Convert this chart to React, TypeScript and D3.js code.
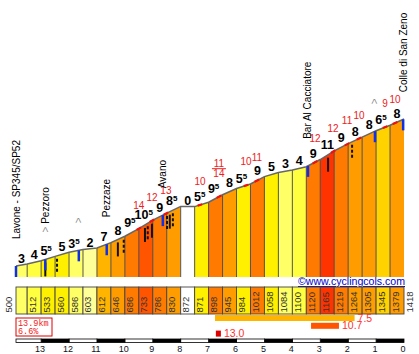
import React from 'react';
import * as d3 from 'd3';

// profile points: km to summit and elevation (m)
const kms = [13.9, 13.5, 13, 12.5, 12, 11.5, 11, 10.5, 10, 9.5, 9, 8.5, 8, 7.5, 7, 6.5, 6, 5.5, 5, 4.5, 4, 3.5, 3, 2.5, 2, 1.5, 1, 0.5, 0];
const elevations = [500, 512, 533, 560, 586, 603, 612, 646, 686, 733, 786, 830, 872, 871, 898, 945, 984, 1012, 1058, 1084, 1100, 1120, 1165, 1219, 1264, 1305, 1345, 1379, 1418];
// average gradient shown for each segment
const gradients = [3, 4, 5.5, 5, 3.5, 2, 7, 8, 9.5, 10.5, 9, 8.5, 0, 5.5, 9.5, 8, 5.5, 9, 5, 3, 4, 9, 11, 9, 8, 8, 6.5, 8];
// steepest ramps (red)
const maxRamps = [
  { km: 9.5, v: '14' }, { km: 9.03, v: '12' }, { km: 8.53, v: '13' }, { km: 7.31, v: '10' },
  { km: 6.63, v: '11/14' }, { km: 5.66, v: '10' }, { km: 5.27, v: '11' }, { km: 3.19, v: '12' },
  { km: 2.54, v: '12' }, { km: 2.04, v: '11' }, { km: 1.61, v: '10' }, { km: 0.68, v: '9' }, { km: 0.32, v: '10' },
];
const places = [
  { km: 13.9, name: 'Lavone - SP345/SP52' },
  { km: 12.85, name: '> Pezzoro' },
  { km: 11.65, name: '>' },
  { km: 10.65, name: 'Pezzaze' },
  { km: 8.64, name: 'Avano' },
  { km: 3.44, name: 'Bar Al Cacciatore' },
  { km: 1.04, name: '>' },
  { km: 0.02, name: 'Colle di San Zeno' },
];
const blueMarks = [13.9, 12.85, 11.65, 10.65, 8.64, 3.44, 1.04, 0.03];
const blackMarks = [
  { km: 12.85, dashed: false }, { km: 12.43, dashed: true }, { km: 10.25, dashed: false }, { km: 10.04, dashed: true },
  { km: 9.28, dashed: false }, { km: 9.18, dashed: true }, { km: 9.03, dashed: false }, { km: 8.49, dashed: true },
  { km: 8.39, dashed: false }, { km: 8.28, dashed: true }, { km: 2.72, dashed: false }, { km: 1.86, dashed: true },
];
const kmTicks = [13, 12, 11, 10, 9, 8, 7, 6, 5, 4, 3, 2, 1, 0];
const summary = ['13.9km', '6.6%'];
// best averages: 5 km, 1 km, 100 m
const bestAverages = [
  { v: 7.5, from: 6.77, to: 1.77 },
  { v: 10.7, from: 3.33, to: 2.33 },
  { v: 13.0, from: 6.74, to: 6.56 },
];

function gradeColor(g: number) {
  if (g < 1) return '#ffffff';
  if (g < 2.5) return '#ffff99';
  if (g < 3.75) return '#ffff66';
  if (g < 4.5) return '#ffff40';
  if (g < 6) return '#fff000';
  if (g < 6.9) return '#ffd200';
  if (g < 7.6) return '#ffb400';
  if (g < 8.6) return '#ff9c00';
  if (g < 9.6) return '#ff7a00';
  if (g < 10.8) return '#ff5500';
  if (g < 12) return '#ff3300';
  return '#e00000';
}

export default function App() {
  const x = d3.scaleLinear().domain([13.9, 0]).range([16, 404]);
  const y = d3.scaleLinear().domain([500, 1418]).range([266, 119]);
  const elevAt = d3.scaleLinear().domain(kms).range(elevations);
  const base = 277;
  const pts = kms.map((k, i) => ({ km: k, e: elevations[i] }));
  const area = d3.area<{ km: number; e: number }>().x(d => x(d.km)).y0(base).y1(d => y(d.e));
  const line = d3.line<{ km: number; e: number }>().x(d => x(d.km)).y(d => y(d.e));
  const font = 'Liberation Sans, Arial, sans-serif';

  return (
    <svg width={419} height={354} style={{ position: 'absolute', left: 0, top: 0, background: '#fff' }} fontFamily={font}>
      {/* segments */}
      {gradients.map((g, i) => (
        <path key={'s' + i} d={area([pts[i], pts[i + 1]]) || ''} fill={gradeColor(g)} />
      ))}
      {pts.slice(1, -1).map((p, i) => (
        <line key={'v' + i} x1={x(p.km)} x2={x(p.km)} y1={y(p.e)} y2={base} stroke="#444" strokeWidth={0.9} />
      ))}
      <path d={line(pts) || ''} fill="none" stroke="#666" strokeWidth={1.5} />
      {/* red ramp ticks on profile */}
      {maxRamps.map((r, i) => {
        const seg = [r.km + 0.08, r.km - 0.08].map(k => ({ km: k, e: elevAt(k) }));
        return <path key={'rt' + i} d={line(seg) || ''} stroke="#ee1111" strokeWidth={2.2} fill="none" />;
      })}
      {/* black markers */}
      {blackMarks.map((m, i) => {
        const yy = y(elevAt(m.km)) + 3;
        return <line key={'bm' + i} x1={x(m.km)} x2={x(m.km)} y1={yy} y2={yy + 14} stroke="#111" strokeWidth={2}
          strokeDasharray={m.dashed ? '3,2' : undefined} />;
      })}
      {/* blue markers */}
      {blueMarks.map((k, i) => {
        const yy = y(elevAt(k));
        return <line key={'bl' + i} x1={x(k)} x2={x(k)} y1={yy} y2={yy + 11} stroke="#1030e8" strokeWidth={2.5} />;
      })}
      {/* gradient labels */}
      {gradients.map((g, i) => {
        const cx = (x(kms[i]) + x(kms[i + 1])) / 2;
        const yy = y(Math.max(elevations[i], elevations[i + 1])) - 1.5;
        const whole = Math.floor(g);
        const half = g - whole > 0;
        return (
          <text key={'g' + i} x={cx - (half ? 2 : 0)} y={yy} fontSize={12.5} fontWeight="bold" textAnchor="middle" fill="#000">
            {whole}
            {half && <tspan fontSize={8} dy={-4}>5</tspan>}
          </text>
        );
      })}
      {/* max ramp labels */}
      {maxRamps.map((r, i) => {
        const cx = x(r.km);
        const yy = y(elevAt(r.km)) - 20;
        if (r.v.includes('/')) {
          const [a, b] = r.v.split('/');
          return (
            <g key={'r' + i} fill="#f02020" fontSize={10} textAnchor="middle">
              <text x={cx} y={yy - 9.5}>{a}</text>
              <line x1={cx - 7} x2={cx + 7} y1={yy - 8} y2={yy - 8} stroke="#f02020" strokeWidth={1} />
              <text x={cx} y={yy}>{b}</text>
            </g>
          );
        }
        return <text key={'r' + i} x={cx} y={yy} fill="#f02020" fontSize={10} textAnchor="middle">{r.v}</text>;
      })}
      {/* place names */}
      {places.map((p, i) => {
        const px = x(p.km) + 3.5;
        const py = y(elevAt(p.km)) - 27;
        const parts = p.name.startsWith('>') ? ['>', p.name.slice(1)] : ['', p.name];
        return (
          <text key={'p' + i} transform={`translate(${px},${py}) rotate(-90)`} fontSize={10} fill="#000">
            {parts[0] && <tspan fill="#888">{parts[0]}</tspan>}
            {parts[1]}
          </text>
        );
      })}
      <text x={298} y={285} fontSize={10} fill="#0000cc" textDecoration="underline" textLength={107} lengthAdjust="spacingAndGlyphs">
        ©www.cyclingcols.com
      </text>
      {/* elevation band */}
      {gradients.map((g, i) => (
        <rect key={'b' + i} x={x(kms[i])} y={287} width={x(kms[i + 1]) - x(kms[i])} height={27}
          fill={gradeColor(g)} stroke="#444" strokeWidth={0.9} />
      ))}
      {elevations.map((e, i) => {
        const cx = i === 0 ? x(kms[0]) - 8 : x(kms[i]) + 5;
        return (
          <text key={'e' + i} transform={`translate(${cx + 3.5},312.5) rotate(-90)`} fontSize={9.5} fill="#333">{e}</text>
        );
      })}
      {/* summary box */}
      <rect x={16} y={318} width={36} height={18} fill="#fff" stroke="#e00000" strokeWidth={1} />
      {summary.map((s, i) => (
        <text key={'su' + i} x={18} y={325.5 + i * 8.5} fontSize={8.5} fill="#f02020" fontFamily="Liberation Mono, monospace">{s}</text>
      ))}
      {/* best averages */}
      {bestAverages.map((b, i) => {
        const x0 = x(b.from), x1 = x(b.to);
        const yy = 315 + i * 7.8;
        return (
          <g key={'ba' + i}>
            <rect x={x0} y={yy} width={x1 - x0} height={6} fill={gradeColor(b.v)} />
            <text x={x1 + 3} y={yy + 6.5} fontSize={10.5} fill="#ff3030">{b.v.toFixed(1)}</text>
          </g>
        );
      })}
      {/* km scale */}
      {d3.range(0, 14).map(k => {
        const x0 = x(Math.min(13.9, k + 1)), x1 = x(k);
        return <rect key={'k' + k} x={x0} y={339} width={x1 - x0} height={3.5} fill={k % 2 === 0 ? '#000' : '#fff'} stroke="#000" strokeWidth={0.8} />;
      })}
      {kmTicks.map(k => (
        <text key={'t' + k} x={x(k) - 1} y={352} fontSize={9} textAnchor="middle" fill="#112">{k}</text>
      ))}
    </svg>
  );
}
